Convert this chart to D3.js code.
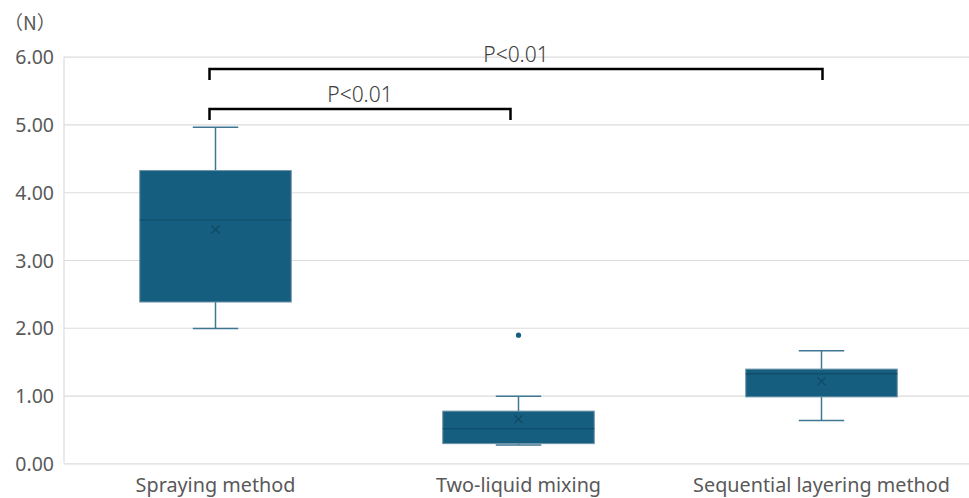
<!DOCTYPE html>
<html>
<head>
<meta charset="utf-8">
<script src="https://cdn.jsdelivr.net/npm/d3@7/dist/d3.min.js"></script>
<style>
html,body{margin:0;padding:0;background:#fff;}
svg{display:block;}
text{font-family:"Noto Sans","Noto Sans CJK JP",sans-serif;}
</style>
</head>
<body>
<svg id="chart" width="969" height="498"></svg>
<script>
const categories = ["Spraying method", "Two-liquid mixing", "Sequential layering method"];
const whiskerLow  = [1.99, 0.27, 0.63];
const q1          = [2.38, 0.29, 0.98];
const median      = [3.59, 0.51, 1.32];
const q3          = [4.32, 0.77, 1.39];
const whiskerHigh = [4.96, 0.99, 1.66];
const means       = [3.45, 0.65, 1.21];
const outliers    = [[], [1.89], []];
const yTicks      = [0, 1, 2, 3, 4, 5, 6];
const unitLabel   = "（N）";
const brackets = [
  {from: 0, to: 2, label: "P<0.01", level: 5.82},
  {from: 0, to: 1, label: "P<0.01", level: 5.23}
];

(function () {
const svg = d3.select("#chart");
const mLeft = 64, mRight = 973, mTop = 56.7, mBottom = 463.3;

const x = d3.scaleBand().domain(categories).range([mLeft, mRight]).paddingInner(0.5).paddingOuter(0.25);
const y = d3.scaleLinear().domain([0, 6]).range([mBottom, mTop]);

const fill = "#165E80", edge = "#6d93a8", medCol = "#0e4a66", whiskCol = "#3f7693";

const yAxis = d3.axisLeft(y).tickValues(yTicks).tickFormat(d3.format(".2f")).tickSize(-(969 - mLeft)).tickPadding(10);
const gAxis = svg.append("g").attr("transform", `translate(${mLeft},0)`).call(yAxis);
gAxis.select(".domain").remove();
gAxis.selectAll(".tick line").attr("stroke", "#dcdcdc").attr("stroke-width", 1.2);
gAxis.selectAll(".tick text").attr("fill", "#595959").attr("font-size", 19.5).attr("x", -10).attr("dy", "0.36em");
svg.append("line").attr("x1", mLeft).attr("x2", mLeft).attr("y1", y(6)).attr("y2", y(0))
  .attr("stroke", "#dcdcdc").attr("stroke-width", 1.2);

svg.append("text").attr("x", 4).attr("y", 30).attr("fill", "#595959").attr("font-size", 19)
  .style("font-family", "'Noto Sans CJK JP',sans-serif").text(unitLabel);

const xAxis = d3.axisBottom(x).tickSize(0).tickPadding(15);
const gx = svg.append("g").attr("transform", `translate(0,${mBottom})`).call(xAxis);
gx.select(".domain").remove();
gx.selectAll(".tick text").attr("fill", "#595959").attr("font-size", 19.8);

const bw = x.bandwidth();
const capW = bw * 0.3;
categories.forEach((c, i) => {
  const x0 = x(c), cx = x0 + bw / 2;
  const g = svg.append("g");
  g.append("line").attr("x1", cx).attr("x2", cx).attr("y1", y(whiskerHigh[i])).attr("y2", y(q3[i])).attr("stroke", whiskCol).attr("stroke-width", 1.5);
  g.append("line").attr("x1", cx).attr("x2", cx).attr("y1", y(q1[i])).attr("y2", y(whiskerLow[i])).attr("stroke", whiskCol).attr("stroke-width", 1.5);
  g.append("line").attr("x1", cx - capW / 2).attr("x2", cx + capW / 2).attr("y1", y(whiskerHigh[i])).attr("y2", y(whiskerHigh[i])).attr("stroke", whiskCol).attr("stroke-width", 1.5);
  g.append("line").attr("x1", cx - capW / 2).attr("x2", cx + capW / 2).attr("y1", y(whiskerLow[i])).attr("y2", y(whiskerLow[i])).attr("stroke", whiskCol).attr("stroke-width", 1.5);
  g.append("rect").attr("x", x0).attr("width", bw).attr("y", y(q3[i])).attr("height", y(q1[i]) - y(q3[i]))
    .attr("fill", fill).attr("stroke", edge).attr("stroke-width", 1);
  g.append("line").attr("x1", x0).attr("x2", x0 + bw).attr("y1", y(median[i])).attr("y2", y(median[i])).attr("stroke", medCol).attr("stroke-width", 1.2);
  const my = y(means[i]), s = 4;
  g.append("path").attr("d", `M${cx - s},${my - s}L${cx + s},${my + s}M${cx - s},${my + s}L${cx + s},${my - s}`)
    .attr("stroke", medCol).attr("stroke-width", 1.2).attr("fill", "none");
  outliers[i].forEach(v => {
    g.append("circle").attr("cx", cx).attr("cy", y(v)).attr("r", 2.6).attr("fill", fill);
  });
});

const drop = 11;
brackets.forEach(b => {
  const xa = x(categories[b.from]) + bw / 2 - 6;
  const xb = x(categories[b.to]) + bw / 2 - (b.to === 2 ? -1 : 8);
  const yy = y(b.level);
  svg.append("path").attr("d", `M${xa},${yy + drop}V${yy}H${xb}V${yy + drop}`)
    .attr("fill", "none").attr("stroke", "#000").attr("stroke-width", 2.5);
  svg.append("text").attr("x", (xa + xb) / 2).attr("y", yy - 7).attr("text-anchor", "middle")
    .attr("fill", "#404040").attr("font-size", 21).attr("font-weight", 300).text(b.label);
});
})();
</script>
</body>
</html>
